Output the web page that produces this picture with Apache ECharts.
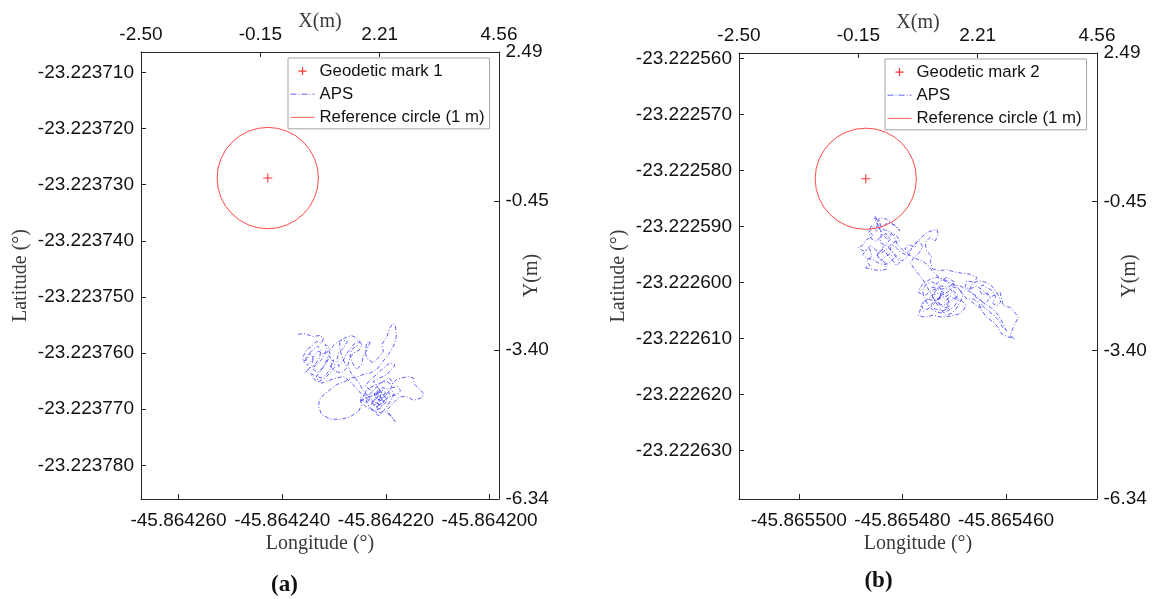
<!DOCTYPE html>
<html><head><meta charset="utf-8">
<script src="https://cdn.jsdelivr.net/npm/echarts@6/dist/echarts.min.js"></script>
<style>html,body{margin:0;padding:0;background:#fff}#c{width:1153px;height:599px}</style>
</head><body><div id="c"></div>
<script>
// ---------- data ----------
const panelLabels = ['(a)', '(b)'];
const markNames = ['Geodetic mark 1', 'Geodetic mark 2'];
// axis ranges (degrees) and tick values
const lonRangeA = [-45.86426723, -45.86419819];
const latRangeA = [-23.22378599, -23.22370637];
const lonRangeB = [-45.86551154, -45.86544243];
const latRangeB = [-23.22263865, -23.22255905];
const lonTicksA = [-45.86426, -45.86424, -45.86422, -45.86420];
const latTicksA = [-23.22371, -23.22372, -23.22373, -23.22374, -23.22375, -23.22376, -23.22377, -23.22378];
const lonTicksB = [-45.86550, -45.86548, -45.86546];
const latTicksB = [-23.22256, -23.22257, -23.22258, -23.22259, -23.22260, -23.22261, -23.22262, -23.22263];
// local metric axes (m)
const xRangeM = [-2.50, 4.56];
const yRangeM = [-6.34, 2.49];
const xTicksM = [-2.50, -0.1467, 2.2067, 4.56];
const yTicksM = [2.49, -0.4533, -3.3967, -6.34];
// geodetic marks (local X, Y in m) and reference circle radius (m)
const markA = [[0, 0]];
const markB = [[0, 0]];
const circleRadius = 1;
// APS tracks, local X/Y (m)
const apsTrackA = [
[0.60,-3.09],[0.70,-3.07],[0.80,-3.10],[0.90,-3.13],[1.02,-3.11],[1.10,-3.16],[1.06,-3.26],[0.96,-3.23],[0.87,-3.32],[0.77,-3.39],
[0.70,-3.52],[0.69,-3.62],[0.77,-3.59],[0.83,-3.46],[0.90,-3.55],[0.87,-3.69],[0.80,-3.78],[0.73,-3.85],[0.83,-3.75],[0.96,-3.69],
[1.06,-3.59],[1.16,-3.39],[1.13,-3.29],[1.19,-3.32],[1.23,-3.49],[1.16,-3.65],[1.06,-3.78],[0.96,-3.92],[1.00,-4.02],[1.13,-3.95],
[1.23,-3.85],[1.33,-3.72],[1.29,-3.59],[1.23,-3.72],[1.33,-3.82],[1.46,-3.85],[1.56,-3.75],[1.49,-3.59],[1.42,-3.39],[1.42,-3.23],
[1.52,-3.16],[1.65,-3.11],[1.75,-3.16],[1.82,-3.23],[1.75,-3.32],[1.65,-3.39],[1.62,-3.52],[1.69,-3.69],[1.75,-3.78],[1.85,-3.69],
[1.88,-3.52],[1.96,-3.39],[2.02,-3.23],[1.95,-3.26],[1.92,-3.46],[1.98,-3.59],[2.08,-3.65],[2.21,-3.52],[2.28,-3.42],[2.25,-3.29],
[2.35,-3.13],[2.41,-2.96],[2.46,-2.88],[2.51,-2.90],[2.54,-3.09],[2.51,-3.26],[2.44,-3.39],[2.35,-3.52],[2.25,-3.65],[2.15,-3.78],
[2.02,-3.85],[1.88,-3.88],[1.79,-3.92],[1.65,-3.95],[1.52,-4.02],[1.36,-4.08],[1.23,-4.18],[1.10,-4.28],[1.02,-4.38],[1.00,-4.51],
[1.06,-4.67],[1.23,-4.76],[1.42,-4.77],[1.62,-4.72],[1.79,-4.61],[1.85,-4.48],[1.82,-4.34],[1.92,-4.28],[2.02,-4.34],[1.95,-4.44],
[1.85,-4.38],[1.95,-4.18],[2.08,-4.11],[2.21,-4.05],[2.35,-4.02],[2.44,-4.08],[2.54,-3.98],[2.64,-3.95],[2.77,-3.92],[2.87,-3.95],
[2.90,-4.08],[3.00,-4.18],[3.07,-4.25],[3.04,-4.34],[2.87,-4.39],[2.77,-4.33],[2.67,-4.31],[2.58,-4.34],[2.48,-4.44],[2.35,-4.58],
[2.41,-4.67],[2.51,-4.81],[2.44,-4.71],[2.31,-4.61],[2.18,-4.64],[2.05,-4.58],[1.92,-4.51],[1.82,-4.41],[1.95,-4.34],[2.12,-4.28],
[2.25,-4.21],[2.21,-4.34],[2.15,-4.44],[2.25,-4.51],[2.35,-4.41],[2.28,-4.28],[2.18,-4.15],[2.08,-4.02],[2.21,-3.95],[2.35,-3.88],
[2.44,-3.78],[2.51,-3.69],[2.41,-3.65],[2.28,-3.75],[2.15,-3.88],[2.02,-3.98],[1.92,-4.11],[2.05,-4.21],[2.18,-4.31],[2.08,-4.41],
[2.21,-4.48],[2.28,-4.38],[2.15,-4.25],
[2.24,-4.18],[2.32,-4.24],[2.27,-4.33],[2.19,-4.38],[2.12,-4.33],[2.16,-4.22],[2.25,-4.14],[2.36,-4.16],[2.40,-4.27],[2.33,-4.37],
[2.24,-4.46],[2.14,-4.52],[2.04,-4.47],[2.09,-4.37],[2.20,-4.30],[2.29,-4.41],[2.22,-4.55],[2.10,-4.60],[2.00,-4.52],[1.94,-4.40],
[2.00,-4.28],[2.10,-4.17],[2.20,-4.08],[2.30,-4.00],[2.40,-3.95],[2.47,-4.05],[2.42,-4.16],[2.49,-4.26],[2.44,-4.36],[2.37,-4.48],
[2.28,-4.60],[2.20,-4.70],[2.12,-4.65],[2.17,-4.55],[2.08,-4.42],[1.98,-4.30],[1.88,-4.20],[1.80,-4.05],[1.72,-3.95],[1.64,-3.85],
[1.58,-3.70],[1.62,-3.55],[1.70,-3.45],[1.80,-3.40],[1.86,-3.30],[1.80,-3.22],[1.70,-3.28],[1.62,-3.38],[1.55,-3.48],[1.48,-3.62],
[1.40,-3.72],[1.36,-3.60],[1.40,-3.45],[1.50,-3.35],[1.57,-3.22],[1.45,-3.20],[1.32,-3.28],[1.22,-3.40],[1.12,-3.48],[1.00,-3.42],
[0.92,-3.50],[0.85,-3.62],[0.78,-3.70],[0.72,-3.64],[0.78,-3.50],[0.88,-3.40],[0.98,-3.32],[1.05,-3.40],[1.02,-3.55],[0.95,-3.66],
[0.90,-3.78],[0.98,-3.84],[1.08,-3.76],[1.15,-3.62],[1.20,-3.50],[1.28,-3.62],[1.24,-3.76],[1.15,-3.88],[1.05,-3.95],[0.93,-3.90],
[0.84,-3.86],[0.92,-3.98],[1.06,-4.05],[1.20,-4.00],[1.35,-3.95],[1.50,-3.92],[1.62,-4.02],[1.72,-4.12],[1.80,-4.22],[1.90,-4.30],
[2.00,-4.40],[2.10,-4.48],[2.20,-4.42],[2.30,-4.32],[2.38,-4.22],[2.46,-4.14],[2.56,-4.12],[2.62,-4.20],[2.55,-4.28],[2.45,-4.30],
[2.35,-4.36],[2.26,-4.26],[2.18,-4.18],[2.10,-4.26],[2.14,-4.36],[2.24,-4.40]
];
const apsTrackB = [
[0.18,-0.74],[0.25,-0.84],[0.21,-0.97],[0.12,-0.93],[0.05,-1.03],[0.15,-1.13],[0.02,-1.20],[-0.08,-1.33],[-0.15,-1.36],[-0.05,-1.43],
[0.08,-1.39],[0.12,-1.53],[0.02,-1.63],[0.08,-1.72],[-0.02,-1.76],[0.12,-1.79],[0.28,-1.82],[0.41,-1.79],[0.38,-1.66],[0.28,-1.59],
[0.21,-1.49],[0.35,-1.39],[0.44,-1.53],[0.54,-1.63],[0.61,-1.72],[0.67,-1.66],[0.58,-1.53],[0.48,-1.39],[0.54,-1.26],[0.67,-1.23],
[0.61,-1.13],[0.51,-1.07],[0.44,-1.20],[0.35,-1.13],[0.28,-1.00],[0.38,-0.90],[0.48,-0.87],[0.64,-0.97],[0.67,-1.03],[0.58,-0.93],
[0.41,-0.80],[0.28,-0.77],[0.21,-0.87],[0.31,-1.07],[0.28,-1.26],[0.41,-1.33],[0.54,-1.46],[0.64,-1.56],[0.71,-1.63],[0.81,-1.56],
[0.87,-1.46],[0.77,-1.39],[0.84,-1.30],[0.97,-1.36],[1.00,-1.26],[1.10,-1.16],[1.20,-1.07],[1.30,-1.03],[1.40,-1.00],[1.43,-1.10],
[1.37,-1.23],[1.27,-1.16],[1.17,-1.26],[1.20,-1.43],[1.30,-1.53],[1.27,-1.66],[1.33,-1.79],[1.46,-1.82],[1.60,-1.80],[1.73,-1.84],
[1.89,-1.87],[2.06,-1.89],[2.19,-1.95],[2.15,-2.05],[1.99,-2.02],[1.96,-2.15],[2.06,-2.18],[2.19,-2.12],[2.32,-2.22],[2.45,-2.35],
[2.58,-2.28],[2.65,-2.25],[2.68,-2.38],[2.71,-2.51],[2.85,-2.55],[2.94,-2.65],[3.01,-2.74],[2.94,-2.88],[2.88,-3.01],[2.85,-3.11],
[2.94,-3.17],[2.78,-3.12],[2.68,-3.07],[2.61,-2.94],[2.52,-2.84],[2.38,-2.74],[2.29,-2.61],[2.22,-2.45],[2.12,-2.38],[1.99,-2.38],
[1.89,-2.25],[1.79,-2.12],[1.66,-2.05],[1.53,-1.99],[1.40,-1.95],[1.27,-1.99],[1.17,-2.05],[1.07,-2.15],[1.04,-2.25],[1.17,-2.32],
[1.27,-2.22],[1.40,-2.18],[1.53,-2.25],[1.46,-2.38],[1.33,-2.41],[1.20,-2.38],[1.10,-2.48],[1.07,-2.61],[1.04,-2.71],[1.17,-2.74],
[1.33,-2.70],[1.50,-2.74],[1.66,-2.72],[1.83,-2.68],[1.92,-2.61],[1.98,-2.50],[1.89,-2.41],[1.76,-2.38],[1.66,-2.32],[1.56,-2.45],
[1.66,-2.55],[1.53,-2.61],[1.37,-2.58],[1.27,-2.51],[1.40,-2.38],[1.60,-2.32],[1.73,-2.22],[1.83,-2.32],[1.69,-2.41],[1.53,-2.51],
[1.40,-2.45],[1.30,-2.32],[1.46,-2.12],[1.63,-2.15],[1.76,-2.05],[1.60,-1.95],[1.43,-2.05],[1.30,-2.15],[1.50,-2.18],[1.66,-2.18],
[1.75,-2.28],[1.82,-2.40],[1.75,-2.52],[1.64,-2.60],[1.52,-2.66],[1.40,-2.64],[1.30,-2.58],[1.22,-2.48],[1.15,-2.36],[1.12,-2.22],
[1.18,-2.10],[1.30,-2.04],[1.42,-2.10],[1.50,-2.22],[1.46,-2.34],[1.36,-2.46],[1.25,-2.56],[1.14,-2.62],[1.10,-2.50],[1.20,-2.40],
[1.32,-2.30],[1.44,-2.26],[1.56,-2.30],[1.64,-2.42],[1.60,-2.56],[1.48,-2.52],[1.40,-2.40],[1.50,-2.30],[1.62,-2.24],[1.72,-2.14],
[1.84,-2.18],[1.92,-2.30],[1.86,-2.44],[1.78,-2.58],[1.70,-2.66],[1.58,-2.70],[1.48,-2.58],[1.38,-2.45],[1.30,-2.30],[1.22,-2.16],
[1.14,-2.02],[1.05,-1.90],[0.95,-1.78],[0.88,-1.66],[0.96,-1.55],[1.06,-1.46],[1.12,-1.34],[1.05,-1.22],[0.95,-1.30],[0.88,-1.42],
[0.78,-1.50],[0.68,-1.45],[0.60,-1.36],[0.50,-1.30],[0.40,-1.40],[0.30,-1.48],[0.20,-1.42],[0.10,-1.32],[0.02,-1.40],[-0.06,-1.50],
[0.02,-1.58],[0.14,-1.60],[0.24,-1.66],[0.34,-1.70],[0.46,-1.68],[0.55,-1.58],[0.48,-1.48],[0.38,-1.55],[0.30,-1.62],[0.22,-1.54],
[0.28,-1.42],[0.40,-1.30],[0.48,-1.20],[0.40,-1.08],[0.30,-1.15],[0.20,-1.24],[0.10,-1.18],[0.06,-1.06],[0.14,-0.96],[0.22,-1.04],
[0.30,-0.94],[0.26,-0.82],[0.16,-0.78],[0.24,-0.90],[0.34,-1.00],[0.46,-1.04],[0.56,-1.14],[0.62,-1.30],[0.72,-1.40],[0.84,-1.50],
[0.98,-1.58],[1.10,-1.62],[1.22,-1.70],[1.34,-1.86],[1.46,-1.96],[1.58,-2.04],[1.70,-2.10],[1.86,-2.12],[2.00,-2.20],[2.12,-2.30],
[2.24,-2.40],[2.36,-2.48],[2.48,-2.56],[2.58,-2.66],[2.66,-2.78],[2.72,-2.90],[2.78,-3.02],[2.70,-2.94],[2.62,-2.80],[2.52,-2.70],
[2.40,-2.60],[2.30,-2.52],[2.38,-2.44],[2.46,-2.36],[2.40,-2.26],[2.30,-2.30],[2.24,-2.20],[2.30,-2.10],[2.40,-2.16],[2.50,-2.22],
[2.56,-2.34],[2.50,-2.46],[2.58,-2.52],[2.66,-2.44],[2.62,-2.32],[2.55,-2.20],[2.46,-2.10],[2.34,-2.04],[2.22,-2.02],[2.10,-2.08],
[2.04,-2.20],[2.12,-2.28],[2.22,-2.34],[2.30,-2.44],[2.26,-2.56],[2.16,-2.50],[2.08,-2.42]
];

// ---------- styles ----------
const SANS = 'Liberation Sans, Arial, sans-serif';
const SERIF = 'Liberation Serif, Times New Roman, serif';
const AX = '#262626';
const tickFont = {fontFamily: SANS, fontSize: 19, color: '#111'};
const nameFont = {fontFamily: SERIF, fontSize: 20, color: '#3a3a3a'};
const RED = '#ff3535', BLUE = '#2e2eff', MARK = '#ff0000';

const ICON_PLUS = 'path://M0,0M24,14M8,6.4H16V7.6H8ZM11.4,3H12.6V11H11.4Z';
const ICON_DASHDOT = 'path://M0,0M24,14M0,6.6H6V7.4H0ZM8,6.6H9V7.4H8ZM11,6.6H17V7.4H11ZM19,6.6H20V7.4H19ZM22,6.6H24V7.4H22Z';
const ICON_LINE = 'path://M0,0M24,14M0,6.6H24V7.4H0Z';

function fmt(d) { return v => Number(v).toFixed(d); }

function baseAxis(grid, pos, range, ticks, dec, margin, name, nameGap, extra) {
  return Object.assign({
    type: 'value', gridIndex: grid, position: pos, min: range[0], max: range[1],
    scale: true,
    axisLine: {show: true, onZero: false, lineStyle: {color: AX, width: 1}},
    axisTick: {show: true, inside: true, length: 5, customValues: ticks, lineStyle: {color: AX}},
    axisLabel: Object.assign({show: true, margin: margin, customValues: ticks, formatter: fmt(dec), showMinLabel: true, showMaxLabel: true}, tickFont),
    splitLine: {show: false},
    name: name, nameLocation: 'middle', nameGap: nameGap, nameTextStyle: nameFont,
    nameMoveOverlap: false
  }, extra || {});
}

const grids = [
  {left: 141, top: 52, width: 358, height: 447},
  {left: 739, top: 53, width: 358, height: 446}
];

const xAxis = [
  baseAxis(0, 'bottom', lonRangeA, lonTicksA, 6, 12.5, 'Longitude (°)', 35),
  baseAxis(0, 'top', xRangeM, xTicksM, 2, 7.5, 'X(m)', 20),
  baseAxis(1, 'bottom', lonRangeB, lonTicksB, 6, 12.5, 'Longitude (°)', 35),
  baseAxis(1, 'top', xRangeM, xTicksM, 2, 7.5, 'X(m)', 20)
];
const yAxis = [
  baseAxis(0, 'left', latRangeA, latTicksA, 6, 7, 'Latitude (°)', 110),
  baseAxis(0, 'right', yRangeM, yTicksM, 2, 6.5, 'Y(m)', 23, {nameRotate: 90}),
  baseAxis(1, 'left', latRangeB, latTicksB, 6, 7, 'Latitude (°)', 110),
  baseAxis(1, 'right', yRangeM, yTicksM, 2, 6.5, 'Y(m)', 23, {nameRotate: 90})
];

function circleItem(params, api) {
  const c = api.coord([api.value(0), api.value(1)]);
  const s = api.size([api.value(2), api.value(2)]);
  return {type: 'circle', shape: {cx: c[0], cy: c[1], r: (s[0] + s[1]) / 2},
          style: {fill: 'none', stroke: RED, lineWidth: 0.9}};
}

function panelSeries(i, mark, track) {
  const ax = i * 2 + 1;
  return [
    {type: 'line', name: 'APS', xAxisIndex: ax, yAxisIndex: ax, data: track,
     symbol: 'none', showSymbol: false, color: BLUE, silent: true,
     lineStyle: {color: BLUE, width: 0.85, type: [4, 2, 1, 2], opacity: 0.9}, z: 2},
    {type: 'custom', name: 'Reference circle (1 m)', xAxisIndex: ax, yAxisIndex: ax,
     data: mark.map(p => [p[0], p[1], circleRadius]), renderItem: circleItem,
     color: RED, itemStyle: {color: RED}, silent: true, z: 3},
    {type: 'scatter', name: markNames[i], xAxisIndex: ax, yAxisIndex: ax, data: mark,
     symbol: 'path://M4.4,0H5.6V10H4.4ZM0,4.4H10V5.6H0Z', symbolSize: 9,
     color: MARK, itemStyle: {color: MARK}, silent: true, z: 4}
  ];
}

function legendFor(i, left, top) {
  return {
    orient: 'vertical', left: left, top: top, selectedMode: false,
    itemWidth: 24, itemHeight: 14, itemGap: 6.1, padding: [4.6, 5, 3, 2.5],
    borderColor: '#a6a6a6', borderWidth: 1, backgroundColor: '#fff',
    textStyle: {fontFamily: SANS, fontSize: 16.8, color: '#111'},
    data: [
      {name: markNames[i], icon: ICON_PLUS, itemStyle: {color: MARK, borderWidth: 0}},
      {name: 'APS', icon: ICON_DASHDOT, itemStyle: {color: BLUE, borderWidth: 0}},
      {name: 'Reference circle (1 m)', icon: ICON_LINE, itemStyle: {color: RED, borderWidth: 0}}
    ]
  };
}

const chart = echarts.init(document.getElementById('c'), null, {renderer: 'canvas'});
chart.setOption({
  animation: false,
  backgroundColor: '#fff',
  grid: grids,
  xAxis: xAxis,
  yAxis: yAxis,
  legend: [legendFor(0, 288, 58), legendFor(1, 885, 59)],
  series: panelSeries(0, markA, apsTrackA).concat(panelSeries(1, markB, apsTrackB)),
  graphic: [
    {type: 'text', x: 284.5, y: 585, style: {text: panelLabels[0], fontFamily: SERIF, fontWeight: 'bold', fontSize: 23, fill: '#111', align: 'center', verticalAlign: 'middle'}},
    {type: 'text', x: 878.5, y: 581, style: {text: panelLabels[1], fontFamily: SERIF, fontWeight: 'bold', fontSize: 23, fill: '#111', align: 'center', verticalAlign: 'middle'}}
  ]
});
</script></body></html>
